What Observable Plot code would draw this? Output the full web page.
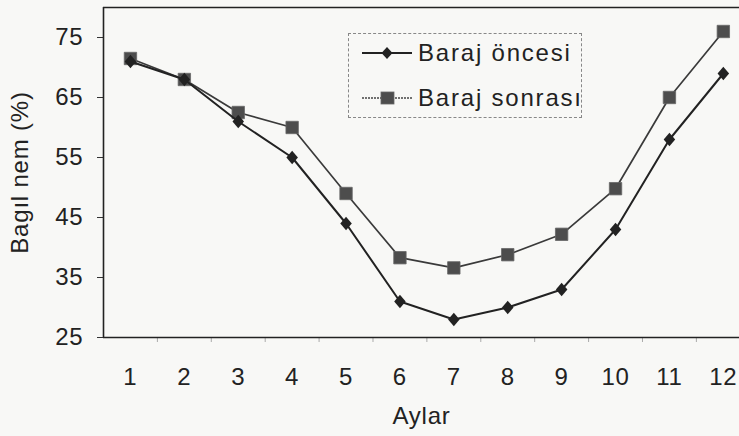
<!DOCTYPE html>
<html>
<head>
<meta charset="utf-8">
<script src="https://cdn.jsdelivr.net/npm/d3@7"></script>
<script src="https://cdn.jsdelivr.net/npm/@observablehq/plot@0.6"></script>
<style>
  html, body { margin: 0; padding: 0; background: #f8f8f6; }
  #wrap { position: relative; width: 739px; height: 436px; font-family: "Liberation Sans", Arial, sans-serif; }
  #legend { position: absolute; left: 348px; top: 33px; width: 234px; height: 85px;
            border: 1px dashed #888; box-sizing: border-box; background: #f8f8f6; }
  .row { position: absolute; left: 13px; height: 26px; display: flex; align-items: center; font-size: 24px; letter-spacing: 1.8px; color: #222; white-space: nowrap; }
  .row svg { margin-right: 6px; }
  svg text { letter-spacing: 0.8px; }
</style>
</head>
<body>
<div id="wrap"></div>
<script>
const months = [1, 2, 3, 4, 5, 6, 7, 8, 9, 10, 11, 12];
const barajOncesi = [71, 68, 61, 55, 44, 31, 28, 30, 33, 43, 58, 69];
const barajSonrasi = [71.5, 68, 62.5, 60, 49, 38.3, 36.6, 38.8, 42.2, 49.8, 65, 76];
const yTicks = [25, 35, 45, 55, 65, 75];
const seriesNames = ["Baraj öncesi", "Baraj sonrası"];

const oncesi = months.map((m, i) => ({month: m, value: barajOncesi[i]}));
const sonrasi = months.map((m, i) => ({month: m, value: barajSonrasi[i]}));
const halfTicks = months.slice(0, 11).map(m => m + 0.5);

const rhombus = {
  draw(ctx, size) {
    const a = Math.sqrt(size / 2);
    ctx.moveTo(0, -a * 1.08);
    ctx.lineTo(a * 0.92, 0);
    ctx.lineTo(0, a * 1.08);
    ctx.lineTo(-a * 0.92, 0);
    ctx.closePath();
  }
};

const chart = Plot.plot({
  width: 739,
  height: 436,
  marginLeft: 103,
  marginTop: 7,
  marginBottom: 99,
  marginRight: 0,
  style: {background: "transparent", fontFamily: "Liberation Sans, Arial, sans-serif", color: "#222"},
  x: {domain: [0.5, 12.3]},
  y: {domain: [25, 80]},
  marks: [
    Plot.axisY({ticks: yTicks, tickSize: 6, tickPadding: 14, fontSize: 24, stroke: "#333",
      label: "Bagıl nem (%)", labelAnchor: "center", labelArrow: "none", labelOffset: 93}),
    Plot.axisX({ticks: halfTicks, tickSize: 5, tickFormat: () => "", stroke: "#aaa", label: null}),
    Plot.axisX({ticks: months, tickSize: 0, tickPadding: 30, fontSize: 24,
      label: "Aylar", labelAnchor: "center", labelArrow: "none", labelOffset: 86}),
    Plot.ruleX([0.5], {stroke: "#222", strokeWidth: 1.6}),
    Plot.ruleY([25], {stroke: "#222", strokeWidth: 1.6}),
    Plot.ruleY([80], {stroke: "#222", strokeWidth: 1.6}),
    Plot.line(sonrasi, {x: "month", y: "value", stroke: "#3a3a3a", strokeWidth: 1.7}),
    Plot.dot(sonrasi, {x: "month", y: "value", symbol: "square", r: 7, fill: "#4d4d4d", stroke: "#666", strokeWidth: 0.8}),
    Plot.line(oncesi, {x: "month", y: "value", stroke: "#222", strokeWidth: 2}),
    Plot.dot(oncesi, {x: "month", y: "value", symbol: rhombus, r: 5, fill: "#222"})
  ]
});

const wrap = document.getElementById("wrap");
wrap.appendChild(chart);

const legend = document.createElement("div");
legend.id = "legend";
const sampleA = `<svg width="50" height="16"><line x1="0" y1="8" x2="50" y2="8" stroke="#222" stroke-width="2"/><path d="M25 2 L30.5 8 L25 14 L19.5 8 Z" fill="#222"/></svg>`;
const sampleB = `<svg width="50" height="16"><line x1="0" y1="8" x2="50" y2="8" stroke="#444" stroke-width="1.5" stroke-dasharray="2,1"/><rect x="19" y="2" width="13" height="12" fill="#4d4d4d" stroke="#666" stroke-width="0.8"/></svg>`;
legend.innerHTML = `<div class="row" style="top:6px">${sampleA}<span>${seriesNames[0]}</span></div>
<div class="row" style="top:51px">${sampleB}<span>${seriesNames[1]}</span></div>`;
wrap.appendChild(legend);
</script>
</body>
</html>
